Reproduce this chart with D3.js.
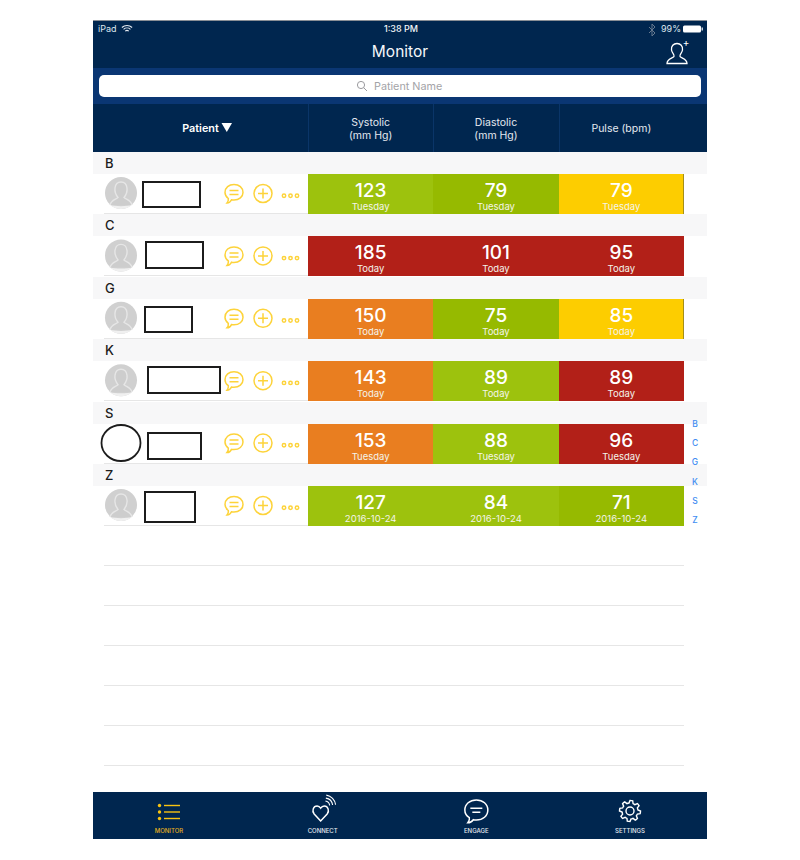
<!DOCTYPE html>
<html>

<head>
    <script src="https://d3js.org/d3.v7.min.js"></script>
    <title>Monitor</title>
    <style>
        html, body { margin: 0; padding: 0; background: #fff; }
        svg { display: block; font-family: Inter, Roboto, sans-serif; }
    </style>
</head>

<body>
    <svg></svg>
    <script>
        const letters = ["B", "C", "G", "K", "S", "Z"];
        const columns = ["Systolic", "Diastolic", "Pulse"];
        const columnLabels = [["Systolic", "(mm Hg)"], ["Diastolic", "(mm Hg)"], ["Pulse (bpm)"]];
        const systolic = [123, 185, 150, 143, 153, 127];
        const diastolic = [79, 101, 75, 89, 88, 84];
        const pulse = [79, 95, 85, 89, 96, 71];
        const readDates = ["Tuesday", "Today", "Today", "Today", "Tuesday", "2016-10-24"];
        const systolicLevel = ["good", "high", "raised", "raised", "raised", "good"];
        const diastolicLevel = ["fair", "high", "fair", "good", "good", "good"];
        const pulseLevel = ["warn", "high", "warn", "high", "high", "fair"];
        const tabs = ["MONITOR", "CONNECT", "ENGAGE", "SETTINGS"];

        const levelColor = {
            good: "#9dc20d",
            fair: "#96ba00",
            warn: "#fdcd00",
            raised: "#e97e20",
            high: "#b22018"
        };
        const navy = "#00264f";
        const amber = "#fdd33a";

        const width = 800;
        const height = 860;
        const appLeft = 93;
        const appRight = 707;

        const svg = d3.select("svg").attr("width", width).attr("height", height);

        const x = d3.scaleBand().domain(columns).range([308, 684]);
        const y = d3.scaleBand().domain(letters).range([152, 526.4]);
        const tabX = d3.scalePoint().domain(tabs).range([169, 630]);
        const indexY = d3.scalePoint().domain(letters).range([424, 520]);
        const emptyY = d3.scaleLinear().domain([0, 5]).range([565.5, 765.5]);

        // header blocks
        svg.append("rect").attr("x", appLeft).attr("y", 20).attr("width", appRight - appLeft).attr("height", 1).attr("fill", "#8a8f96");
        svg.append("rect").attr("x", appLeft).attr("y", 21).attr("width", appRight - appLeft).attr("height", 131).attr("fill", navy);
        svg.append("rect").attr("x", appLeft).attr("y", 68).attr("width", appRight - appLeft).attr("height", 36).attr("fill", "#0a3673");
        svg.append("rect").attr("x", 99).attr("y", 75).attr("width", 602).attr("height", 22).attr("rx", 5).attr("fill", "#fff");

        function label(parent, text, px, py, size, color, anchor, weight) {
            return parent.append("text")
                .attr("x", px)
                .attr("y", py)
                .attr("font-size", size)
                .attr("fill", color)
                .attr("text-anchor", anchor || "middle")
                .attr("font-weight", weight || 400)
                .text(text);
        }

        // status bar
        label(svg, "iPad", 98, 32, 9, "#dfe6ee", "start");
        label(svg, "1:38 PM", 401, 32, 9, "#f2f5f8", "middle", 500);
        label(svg, "99%", 671, 32, 9, "#dfe6ee");
        const wifi = svg.append("g").attr("transform", "translate(127,33)").attr("fill", "none").attr("stroke", "#e6ebf1").attr("stroke-width", 1.1);
        [2.5, 5, 7.5].forEach(function (r) {
            wifi.append("path").attr("d", d3.arc()({ innerRadius: r, outerRadius: r, startAngle: -0.75, endAngle: 0.75 }));
        });
        svg.append("path").attr("d", "M649 27L655 33L652 36V24L655 27L649 33").attr("fill", "none").attr("stroke", "#66798f").attr("stroke-width", 1);
        svg.append("rect").attr("x", 683).attr("y", 25.5).attr("width", 18).attr("height", 7).attr("rx", 1.5).attr("fill", "#fff");
        svg.append("rect").attr("x", 701.5).attr("y", 27.5).attr("width", 1.5).attr("height", 3).attr("fill", "#c9d2dc");

        label(svg, "Monitor", 400, 56.5, 15.5, "#f5f7fa");

        // add patient icon
        svg.append("path")
            .attr("d", "M667 63.5C667 59 672 58.5 674 56.5C675 55 672 53 671.5 50C671 46 673.5 43.5 677 43.5C680.5 43.5 683 46 682.5 50C682 53 679 55 680 56.5C682 58.5 687 59 687 63.5Z")
            .attr("fill", "none").attr("stroke", "#fff").attr("stroke-width", 1.3);
        label(svg, "+", 686, 46, 10, "#fff");

        // search placeholder
        svg.append("circle").attr("cx", 361).attr("cy", 85).attr("r", 3.6).attr("fill", "none").attr("stroke", "#9b9b9f").attr("stroke-width", 1);
        svg.append("line").attr("x1", 363.7).attr("y1", 87.7).attr("x2", 367).attr("y2", 91).attr("stroke", "#9b9b9f").attr("stroke-width", 1);
        label(svg, "Patient Name", 374, 89.5, 10.8, "#a3a3a7", "start");

        // column headers
        svg.selectAll(".col-sep")
            .data(columns)
            .enter()
            .append("line")
            .attr("class", "col-sep")
            .attr("x1", function (d) { return Math.round(x(d)) + 0.5; })
            .attr("x2", function (d) { return Math.round(x(d)) + 0.5; })
            .attr("y1", 104)
            .attr("y2", 152)
            .attr("stroke", "#0a3568");
        label(svg, "Patient", 200.5, 132, 10.8, "#fff", "middle", 600);
        svg.append("path").attr("d", "M221.5 123H232L226.8 132Z").attr("fill", "#fff");
        columns.forEach(function (c, i) {
            const lines = columnLabels[i];
            lines.forEach(function (t, j) {
                label(svg, t, x(c) + x.bandwidth() / 2, (lines.length === 1 ? 132 : 125.5 + j * 13), 10.5, "#e4e9ef");
            });
        });

        // patient sections
        const rows = svg.selectAll(".row")
            .data(letters)
            .enter()
            .append("g")
            .attr("class", "row")
            .attr("transform", function (d) { return `translate(0,${y(d)})`; });

        rows.append("rect").attr("x", appLeft).attr("y", 0).attr("width", appRight - appLeft).attr("height", 22).attr("fill", "#f7f7f8").attr("shape-rendering", "crispEdges");
        rows.append("text")
            .attr("x", 105)
            .attr("y", 16)
            .attr("font-size", 13)
            .attr("font-weight", 500)
            .attr("fill", "#1c1c1c")
            .text(function (d) { return d; });
        rows.append("line").attr("x1", 104).attr("x2", 308).attr("y1", 61.5).attr("y2", 61.5).attr("stroke", "#e6e6e6").attr("shape-rendering", "crispEdges");

        // avatar, grey disc with a person halo and pale lower edge
        const avatars = rows.filter(function (d) { return d !== "S"; }).append("g").attr("transform", "translate(121,41)");
        avatars.append("circle").attr("r", 16).attr("fill", "#d0d0d0");
        avatars.append("path")
            .attr("d", "M-11 12C-10 7 -5 6.5 -3 4.5C-5 2 -6.5 -1 -6 -5C-5.5 -9 -3 -11 0 -11C3 -11 5.5 -9 6 -5C6.5 -1 5 2 3 4.5C5 6.5 10 7 11 12")
            .attr("fill", "#cdcdcd")
            .attr("stroke", "#e6e6e6")
            .attr("stroke-width", 1.4);
        avatars.append("path")
            .attr("d", "M-11 12C-8 14.8 -4 16 0 16C4 16 8 14.8 11 12C6 13.5 -6 13.5 -11 12Z")
            .attr("fill", "#f0f0f0");

        // hand drawn redactions over the names
        const nameBoxes = [[143, 182, 57, 25], [146, 242, 57, 26], [145, 307, 47, 25], [148, 367, 72, 26], [148, 433, 53, 26], [145, 492, 50, 30]];
        svg.selectAll(".name-box")
            .data(nameBoxes)
            .enter()
            .append("rect")
            .attr("class", "name-box")
            .attr("x", function (d) { return d[0]; })
            .attr("y", function (d) { return d[1]; })
            .attr("width", function (d) { return d[2]; })
            .attr("height", function (d) { return d[3]; })
            .attr("fill", "#fff")
            .attr("stroke", "#1c1c1c")
            .attr("stroke-width", 2);
        svg.append("ellipse").attr("cx", 121).attr("cy", 443).attr("rx", 19.5).attr("ry", 18).attr("fill", "#fff").attr("stroke", "#1c1c1c").attr("stroke-width", 1.8);

        // row action icons
        const actions = rows.append("g").attr("fill", "none").attr("stroke", amber).attr("stroke-width", 1.5);
        actions.append("path").attr("d", "M234 32.5C239 32.5 243 35.5 243 40.5C243 45 239 48 234 48C233 48 232.5 48 231.5 47.8C230.5 50 228.5 51 227 51C228.3 49.5 228.5 48 228.3 46.5C226.3 45 225 43 225 40.5C225 35.5 229 32.5 234 32.5Z");
        actions.append("path").attr("d", "M229.5 38.5H238.5M229.5 42.5H238.5");
        actions.append("circle").attr("cx", 263).attr("cy", 41.5).attr("r", 9);
        actions.append("path").attr("d", "M258 41.5H268M263 36.5V46.5");
        actions.selectAll("circle.dot")
            .data([284, 290.5, 297])
            .enter()
            .append("circle")
            .attr("class", "dot")
            .attr("cx", function (d) { return d; })
            .attr("cy", 43.7)
            .attr("r", 1.7);

        // reading cells
        const values = [systolic, diastolic, pulse];
        const levels = [systolicLevel, diastolicLevel, pulseLevel];
        const cells = [];
        letters.forEach(function (letter, i) {
            columns.forEach(function (c, j) {
                cells.push({ letter: letter, column: c, value: values[j][i], level: levels[j][i], date: readDates[i] });
            });
        });

        const cell = svg.selectAll(".cell")
            .data(cells)
            .enter()
            .append("g")
            .attr("class", "cell")
            .attr("transform", function (d) { return `translate(${x(d.column)},${y(d.letter) + 22})`; });

        cell.append("rect")
            .attr("width", x.bandwidth())
            .attr("height", 40)
            .attr("shape-rendering", "crispEdges")
            .attr("fill", function (d) { return levelColor[d.level]; });
        cell.append("text")
            .attr("x", x.bandwidth() / 2)
            .attr("y", 23)
            .attr("text-anchor", "middle")
            .attr("font-size", 19)
            .attr("font-weight", 500)
            .attr("fill", "#fff")
            .text(function (d) { return d.value; });
        cell.append("text")
            .attr("x", x.bandwidth() / 2)
            .attr("y", 36)
            .attr("text-anchor", "middle")
            .attr("font-size", 9.5)
            .attr("fill", "#f4f4ea")
            .text(function (d) { return d.date; });
        cell.filter(function (d) { return d.column === "Pulse" && d.level === "warn"; })
            .append("rect")
            .attr("x", x.bandwidth() - 1)
            .attr("width", 1)
            .attr("height", 40)
            .attr("shape-rendering", "crispEdges")
            .attr("fill", "#a58f18");

        // alphabet index
        svg.selectAll(".index")
            .data(letters)
            .enter()
            .append("text")
            .attr("class", "index")
            .attr("x", 695)
            .attr("y", function (d) { return indexY(d) + 3; })
            .attr("text-anchor", "middle")
            .attr("font-size", 8.5)
            .attr("font-weight", 500)
            .attr("fill", "#3f8df2")
            .text(function (d) { return d; });

        // empty table rows
        svg.selectAll(".empty")
            .data(d3.range(6))
            .enter()
            .append("line")
            .attr("class", "empty")
            .attr("x1", 104)
            .attr("x2", 684)
            .attr("y1", function (d) { return emptyY(d); })
            .attr("y2", function (d) { return emptyY(d); })
            .attr("stroke", "#e6e6e6")
            .attr("shape-rendering", "crispEdges");

        // tab bar
        svg.append("rect").attr("x", appLeft).attr("y", 792).attr("width", appRight - appLeft).attr("height", 47).attr("fill", navy);
        svg.selectAll(".tab")
            .data(tabs)
            .enter()
            .append("text")
            .attr("class", "tab")
            .attr("x", function (d) { return tabX(d); })
            .attr("y", 833)
            .attr("text-anchor", "middle")
            .attr("font-size", 6)
            .attr("font-weight", 500)
            .attr("fill", function (d) { return d === "MONITOR" ? "#e4ae1c" : "#e6eaef"; })
            .text(function (d) { return d; });

        // monitor icon
        const list = svg.append("g").attr("transform", `translate(${tabX("MONITOR")},812)`);
        [-6.5, 0, 6.5].forEach(function (dy) {
            list.append("circle").attr("cx", -9.5).attr("cy", dy).attr("r", 1.7).attr("fill", "#f8c311");
            list.append("line").attr("x1", -5).attr("x2", 11).attr("y1", dy).attr("y2", dy).attr("stroke", "#f8c311").attr("stroke-width", 1.4);
        });

        // connect icon
        const heart = svg.append("g").attr("transform", `translate(${tabX("CONNECT")},812)`).attr("fill", "none").attr("stroke", "#fff").attr("stroke-width", 1.5);
        heart.append("path").attr("d", "M-2 9L-8.5 2C-11 -1 -9.5 -6 -5.5 -6C-4 -6 -2.8 -5 -2 -3.8C-1.2 -5 0 -6 1.5 -6C5.5 -6 7 -1 4.5 2Z");
        [5, 8, 11].forEach(function (r) {
            heart.append("path").attr("transform", "translate(2,-6)").attr("stroke-width", 1.1)
                .attr("d", d3.arc()({ innerRadius: r, outerRadius: r, startAngle: 0.15, endAngle: 1.45 }));
        });

        // engage icon
        const engage = svg.append("g").attr("transform", `translate(${tabX("ENGAGE")},810)`).attr("fill", "none").attr("stroke", "#fff").attr("stroke-width", 1.5);
        engage.append("path").attr("d", "M0 -10C6.5 -10 11.5 -6 11.5 0C11.5 6 6.5 10 0 10C-1 10 -2 10 -3 9.7C-4.5 11.8 -7 12.8 -8.5 12.8C-7 11 -6.7 9 -7 7.6C-10 5.8 -11.5 3 -11.5 0C-11.5 -6 -6.5 -10 0 -10Z");
        engage.append("path").attr("d", "M-6 -1.8H6M-4 2.2H4");

        // settings icon
        const gear = svg.append("g").attr("transform", `translate(${tabX("SETTINGS")},811)`).attr("fill", "none").attr("stroke", "#fff").attr("stroke-width", 1.4);
        gear.append("circle").attr("r", 4);
        const gearPoints = d3.range(48).map(function (i) {
            const a = i / 48 * 2 * Math.PI;
            const r = (i % 6 < 3) ? 10.5 : 8;
            return [r * Math.sin(a), -r * Math.cos(a)];
        });
        gear.append("path").attr("d", d3.line().curve(d3.curveLinearClosed)(gearPoints));
    </script>
</body>

</html>
